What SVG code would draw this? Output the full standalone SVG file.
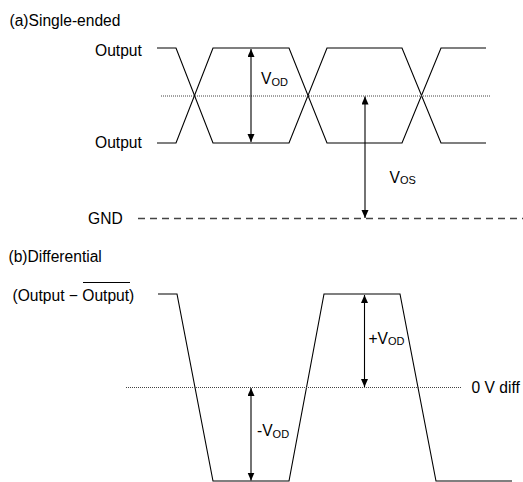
<svg xmlns="http://www.w3.org/2000/svg" width="523" height="482" viewBox="0 0 523 482">
  <style>
    text { font-family: "Liberation Sans", Arial, sans-serif; font-size: 15.6px; fill: #000; }
    .sub { font-size: 11px; }
    .wave { fill: none; stroke: #000; stroke-width: 1.1; stroke-linejoin: miter; }
    .dot { fill: none; stroke: #444; stroke-width: 1; stroke-dasharray: 1 1; }
    .gnd { fill: none; stroke: #444; stroke-width: 1.3; stroke-dasharray: 7 5; }
    .arr { fill: none; stroke: #000; stroke-width: 1.1; marker-start: url(#ah); marker-end: url(#ah); }
  </style>
  <defs>
    <marker id="ah" markerUnits="userSpaceOnUse" markerWidth="9" markerHeight="8" refX="8" refY="3.5" orient="auto-start-reverse">
      <path d="M0,0 L8,3.5 L0,7 z" fill="#000"/>
    </marker>
  </defs>
  <rect width="523" height="482" fill="#fff"/>

  <g id="single-ended">
    <text x="9.5" y="26">(a)Single-ended</text>
    <text x="95" y="56">Output</text>
    <text x="95" y="148">Output</text>
    <text x="88" y="224">GND</text>
    <polyline class="wave" points="157,48 176,48 213,143 289,143 327,48 402,48 441,143 486,143"/>
    <polyline class="wave" points="157,143 176,143 213,48 289,48 327,143 402,143 441,48 486,48"/>
    <line class="dot" x1="161" y1="96" x2="490" y2="96"/>
    <line class="gnd" x1="138" y1="218.5" x2="523" y2="218.5"/>
    <text x="261" y="84">V<tspan class="sub" dy="1.5">OD</tspan></text>
    <text x="389.5" y="182.5">V<tspan class="sub" dy="1.5">OS</tspan></text>
  </g>

  <g id="differential">
    <text x="8.5" y="262">(b)Differential</text>
    <text x="12.5" y="301">(Output − Output)</text>
    <line x1="83" y1="282.5" x2="130" y2="282.5" stroke="#000" stroke-width="1"/>
    <polyline class="wave" points="158,294 177,294 213,481 289,481 324,294 400,294 436,481 512,481"/>
    <line class="dot" x1="126" y1="387.5" x2="462" y2="387.5"/>
    <text x="471.5" y="392.5">0 V diff</text>
    <text x="368.5" y="343.5">+V<tspan class="sub" dy="1.5">OD</tspan></text>
    <text x="257" y="436">-V<tspan class="sub" dy="1.5">OD</tspan></text>
  </g>

  <g id="connectors">
    <line class="arr" x1="251" y1="49" x2="251" y2="142"/>
    <line class="arr" x1="365" y1="96.5" x2="365" y2="218"/>
    <line class="arr" x1="364.5" y1="295" x2="364.5" y2="387"/>
    <line class="arr" x1="251" y1="388" x2="251" y2="480.5"/>
  </g>
</svg>
